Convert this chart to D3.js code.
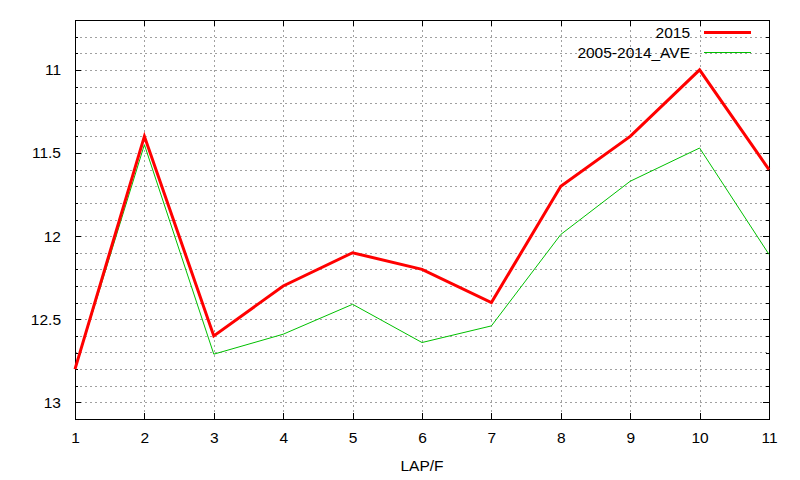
<!DOCTYPE html>
<html>
<head>
<meta charset="utf-8">
<script src="https://cdn.jsdelivr.net/npm/d3@7"></script>
<style>
  body { margin: 0; background: #fff; }
  text { font-family: "Liberation Sans", Arial, sans-serif; font-size: 15.5px; fill: #000; }
</style>
</head>
<body>
<svg id="chart" width="800" height="480"></svg>
<script>
// laps on the x axis
const laps = [1, 2, 3, 4, 5, 6, 7, 8, 9, 10, 11];
// lap times per furlong
const times2015 = [12.8, 11.4, 12.6, 12.3, 12.1, 12.2, 12.4, 11.7, 11.4, 11.0, 11.6];
const timesAve = [12.8, 11.45, 12.71, 12.59, 12.41, 12.64, 12.54, 11.99, 11.67, 11.47, 12.11];
const yMajorTicks = [11, 11.5, 12, 12.5, 13];
const seriesNames = ["2015", "2005-2014_AVE"];

const svg = d3.select("#chart");
const margin = { top: 20, right: 31, bottom: 61, left: 75 };
const width = 800 - margin.left - margin.right,
      height = 480 - margin.top - margin.bottom;

const x = d3.scaleLinear().domain([1, 11]).range([0, width]);
// y is reversed: faster laps (smaller values) on top
const y = d3.scaleLinear().domain([10.7, 13.1]).range([0, height]);

const g = svg.append("g").attr("transform", `translate(${margin.left},${margin.top})`);

// grid
const minorY = d3.range(108, 131).map(d => d / 10);
g.selectAll(".hgrid")
  .data(minorY)
  .join("line")
  .attr("x1", 0).attr("x2", width)
  .attr("y1", d => Math.round(y(d)) + 0.5).attr("y2", d => Math.round(y(d)) + 0.5)
  .attr("stroke", "#a0a0a0")
  .attr("stroke-dasharray", "2,3")
  .attr("shape-rendering", "crispEdges");

g.selectAll(".vgrid")
  .data(laps.slice(1, -1))
  .join("line")
  .attr("x1", d => Math.round(x(d)) + 0.5).attr("x2", d => Math.round(x(d)) + 0.5)
  .attr("y1", 0).attr("y2", height)
  .attr("stroke", "#a0a0a0")
  .attr("stroke-dasharray", "2,3")
  .attr("shape-rendering", "crispEdges");

// axes (gnuplot style: inward ticks, mirrored)
const yLeft = d3.axisLeft(y).tickValues(yMajorTicks).tickSize(-6).tickPadding(14).tickFormat(d3.format("~g"));
const yLeftMinor = d3.axisLeft(y).tickValues(minorY.filter(d => !yMajorTicks.includes(d))).tickSize(-3).tickFormat("");
const yRight = d3.axisRight(y).tickValues(yMajorTicks).tickSize(-6).tickFormat("");
const yRightMinor = d3.axisRight(y).tickValues(minorY).tickSize(-3).tickFormat("");
const xBottom = d3.axisBottom(x).tickValues(laps).tickSize(-6).tickPadding(13).tickFormat(d3.format("d"));
const xTop = d3.axisTop(x).tickValues(laps).tickSize(-6).tickFormat("");

function styleAxis(sel) {
  sel.select(".domain").remove();
  sel.selectAll("line").attr("stroke", "#000").attr("shape-rendering", "crispEdges");
  sel.selectAll("text").attr("font-size", "15.5px").attr("font-family", "Liberation Sans, Arial, sans-serif").attr("fill", "#000");
}

g.append("g").call(yLeft).call(styleAxis);
g.append("g").call(yLeftMinor).call(styleAxis);
g.append("g").attr("transform", `translate(${width},0)`).call(yRight).call(styleAxis);
g.append("g").attr("transform", `translate(${width},0)`).call(yRightMinor).call(styleAxis);
g.append("g").attr("transform", `translate(0,${height})`).call(xBottom).call(styleAxis);
g.append("g").call(xTop).call(styleAxis);

// border
g.append("rect")
  .attr("x", 0.5).attr("y", 0.5)
  .attr("width", width).attr("height", height)
  .attr("fill", "none")
  .attr("stroke", "#000")
  .attr("shape-rendering", "crispEdges");

// lines
const line = d3.line().x((d, i) => x(laps[i])).y(d => y(d));

g.append("path")
  .datum(timesAve)
  .attr("d", line)
  .attr("fill", "none")
  .attr("stroke", "#00c000")
  .attr("stroke-width", 1);

g.append("path")
  .datum(times2015)
  .attr("d", line)
  .attr("fill", "none")
  .attr("stroke", "#ff0000")
  .attr("stroke-width", 3);

// x label
svg.append("text")
  .attr("x", margin.left + width / 2)
  .attr("y", 471)
  .attr("text-anchor", "middle")
  .text("LAP/F");

// legend
const legend = svg.append("g");
const legendStyles = [{ color: "#ff0000", w: 3 }, { color: "#00c000", w: 1 }];
legend.selectAll("text")
  .data(seriesNames)
  .join("text")
  .attr("x", 690)
  .attr("y", (d, i) => 37.5 + i * 20)
  .attr("text-anchor", "end")
  .text(d => d);
legend.selectAll("line")
  .data(seriesNames)
  .join("line")
  .attr("x1", 704).attr("x2", 751)
  .attr("y1", (d, i) => 32.5 + i * 20).attr("y2", (d, i) => 32.5 + i * 20)
  .attr("stroke", (d, i) => legendStyles[i].color)
  .attr("stroke-width", (d, i) => legendStyles[i].w);
</script>
</body>
</html>
